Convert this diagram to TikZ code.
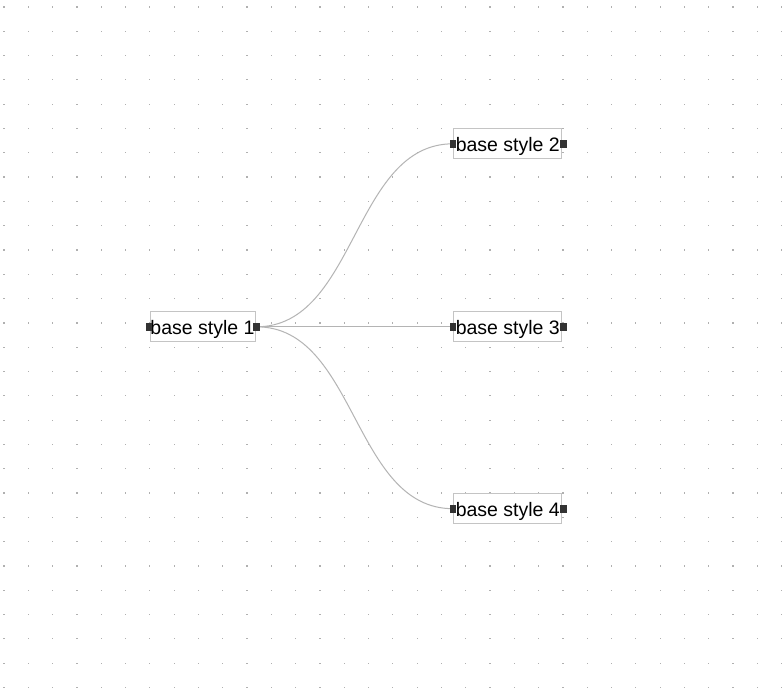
\documentclass[tikz,border=0pt]{standalone}
\usepackage{fontspec}
\setmainfont{Liberation Sans}
\definecolor{boxline}{HTML}{C4C4C4}
\definecolor{wire}{HTML}{B4B4B4}
\definecolor{portc}{HTML}{333333}
\definecolor{dotc}{HTML}{B0B0B0}
\begin{document}
\begin{tikzpicture}[x=1pt,y=-1pt,
  box/.style={draw=boxline, line width=1pt, fill=white, minimum height=30pt, inner sep=0pt,
    text height=14.6pt, text depth=0pt, font=\fontsize{19.5}{19.5}\selectfont, text=black},
  port/.style={fill=portc, draw=none, minimum width=6.8pt, minimum height=7.8pt, inner sep=0pt},
  wireline/.style={draw=wire, line width=1pt}]
\useasboundingbox (0,0) rectangle (782,695);
\fill[white] (0,0) rectangle (782,695);
% dot grid
\foreach \i in {0,...,32}{
  \foreach \j in {0,...,28}{
    \fill[dotc] ({4+24.3*\i-0.6},{7+24.3*\j-0.6}) rectangle ++(1.2,1.2);
  }
}
% boxes
\node[box, minimum width=105pt] (b1) at (202.5,326.8) {base style 1};
\node[box, minimum width=107.7pt] (b2) at (507.8,143.8) {base style 2};
\node[box, minimum width=107.7pt] (b3) at (507.8,326.8) {base style 3};
\node[box, minimum width=107.7pt] (b4) at (507.8,508.7) {base style 4};
% ports (coordinates)
\coordinate (p1l) at ([xshift=-0.5pt]b1.west);
\coordinate (p1r) at ([xshift=1pt]b1.east);
\foreach \n in {2,3,4}{
  \coordinate (p\n l) at ([xshift=-0.5pt]b\n.west);
  \coordinate (p\n r) at ([xshift=1pt]b\n.east);
}
% connectors
\draw[wireline] (p1r) .. controls +(100,0) and +(-100,0) .. (p2l);
\draw[wireline] (p1r) -- (p3l);
\draw[wireline] (p1r) .. controls +(100,0) and +(-100,0) .. (p4l);
% port squares
\foreach \p in {p1l,p1r,p2l,p2r,p3l,p3r,p4l,p4r}{
  \node[port] (sq\p) at (\p) {};
}
\end{tikzpicture}
\end{document}
